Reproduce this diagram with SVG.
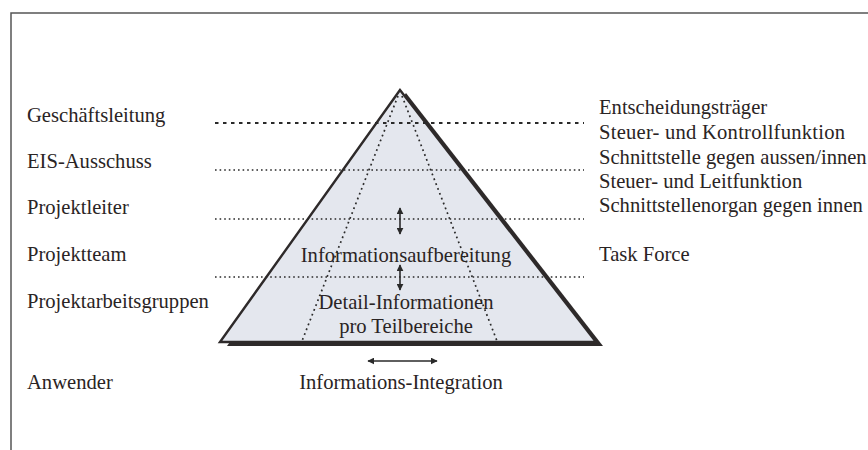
<svg xmlns="http://www.w3.org/2000/svg" width="868" height="450" viewBox="0 0 868 450">
<style>
text{font-family:"Liberation Serif","Times New Roman",serif;font-size:20.6px;fill:#2a2424}
.dot{stroke:#2a2a2a;stroke-width:1.6;stroke-dasharray:1.6 3;fill:none}
.dash{stroke:#2a2a2a;stroke-width:1.8;stroke-dasharray:3.5 4.5;fill:none}
.idot{stroke:#2a2a2a;stroke-width:1.7;stroke-dasharray:1.8 3.4;fill:none}
.arr{stroke:#2a2a2a;stroke-width:1.6;fill:none;marker-start:url(#ah);marker-end:url(#ah)}
</style>
<defs>
<marker id="ah" viewBox="0 0 10 10" refX="9" refY="5" markerWidth="7" markerHeight="7" orient="auto-start-reverse" markerUnits="userSpaceOnUse">
<path d="M0,0 L10,5 L0,10 z" fill="#2a2a2a"/>
</marker>
</defs>
<rect width="868" height="450" fill="#ffffff"/>
<g id="frame" stroke="#555" stroke-width="1.5" fill="none">
<path d="M11,450 V13 H868"/>
</g>
<g id="pyramid">
<polygon points="406,93 227,346 603,346" fill="#2e2a2a"/>
<polygon points="400,90 220,342 596,342" fill="#e4e7ee" stroke="#2e2a2a" stroke-width="2.4" stroke-linejoin="miter"/>
<line class="idot" x1="398" y1="96" x2="302" y2="341"/>
<line class="idot" x1="402" y1="96" x2="497" y2="341"/>
</g>
<g id="levels">
<line class="dash" x1="215" y1="123" x2="584" y2="123"/>
<line class="dot" x1="215" y1="170" x2="584" y2="170"/>
<line class="dot" x1="215" y1="219" x2="584" y2="219"/>
<line class="dot" x1="215" y1="277" x2="584" y2="277"/>
</g>
<g id="left-labels">
<text x="27" y="122">Geschäftsleitung</text>
<text x="27" y="168">EIS-Ausschuss</text>
<text x="27" y="214">Projektleiter</text>
<text x="27" y="261">Projektteam</text>
<text x="27" y="308">Projektarbeitsgruppen</text>
<text x="27" y="389">Anwender</text>
</g>
<g id="right-labels">
<text x="599" y="114">Entscheidungsträger</text>
<text x="599" y="139" textLength="246" lengthAdjust="spacing">Steuer- und Kontrollfunktion</text>
<text x="599" y="164">Schnittstelle gegen aussen/innen</text>
<text x="599" y="188">Steuer- und Leitfunktion</text>
<text x="599" y="212">Schnittstellenorgan gegen innen</text>
<text x="599" y="261">Task Force</text>
</g>
<g id="inner-labels" text-anchor="middle">
<text x="406" y="262">Informationsaufbereitung</text>
<text x="406" y="309">Detail-Informationen</text>
<text x="406" y="333">pro Teilbereiche</text>
<text x="401" y="389">Informations-Integration</text>
</g>
<g id="connectors">
<line class="arr" x1="400" y1="208" x2="400" y2="234"/>
<line class="arr" x1="400" y1="265" x2="400" y2="290"/>
<line class="arr" x1="368" y1="361" x2="437" y2="361"/>
</g>
</svg>
